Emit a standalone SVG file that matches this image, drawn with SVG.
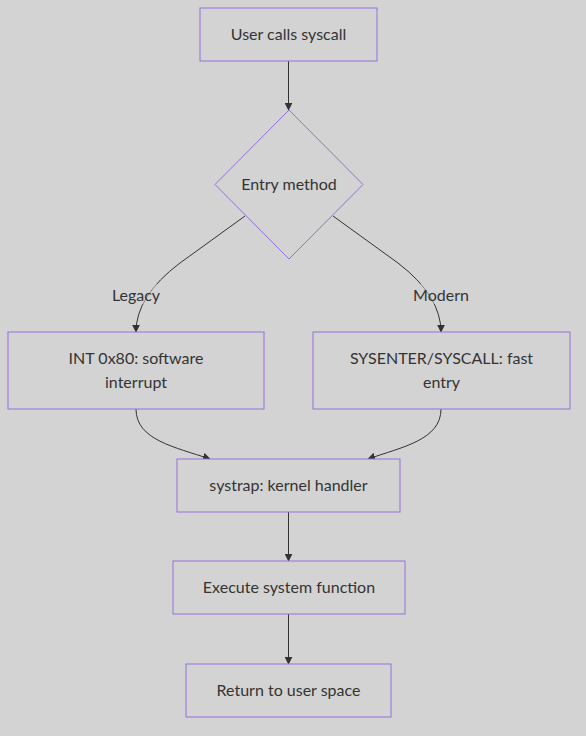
<svg xmlns="http://www.w3.org/2000/svg" width="586" height="736" viewBox="0 0 586 736">
<style>
.node rect,.node polygon{fill:#d3d3d3;stroke:#9370db;stroke-width:1}
.node text,.lbl text{font-family:Lato,"Open Sans","DejaVu Sans",sans-serif;font-size:16px;fill:#333;text-anchor:middle;dominant-baseline:central}
.edge{fill:none;stroke:#333;stroke-width:1}
.lbl rect{fill:#d3d3d3;opacity:0.5}
</style>
<defs>
<marker id="arr" viewBox="0 0 10 10" refX="9" refY="5" markerWidth="8" markerHeight="8" markerUnits="userSpaceOnUse" orient="auto">
<path d="M0,0 L10,5 L0,10 z" fill="#333"/>
</marker>
</defs>
<rect width="586" height="736" fill="#d3d3d3"/>
<g id="connectors">
<path class="edge" d="M288.5,61 L288.5,110" marker-end="url(#arr)"/>
<path class="edge" d="M245,216 L180,263 Q136,296 136,332" marker-end="url(#arr)"/>
<path class="edge" d="M333,216 L398,263 Q441,296 441,332" marker-end="url(#arr)"/>
<path class="edge" d="M136,409 C136,440 175,447 210,459" marker-end="url(#arr)"/>
<path class="edge" d="M441,409 C441,440 402,447 368,459" marker-end="url(#arr)"/>
<path class="edge" d="M288.5,512 L288.5,561" marker-end="url(#arr)"/>
<path class="edge" d="M288.5,614 L288.5,664" marker-end="url(#arr)"/>
</g>
<g id="labels">
<g class="lbl" id="lbl-legacy"><rect x="110" y="284" width="52" height="20"/><text x="136" y="294">Legacy</text></g>
<g class="lbl" id="lbl-modern"><rect x="413" y="284" width="56" height="20"/><text x="441" y="294">Modern</text></g>
</g>
<g class="node" id="n-user"><rect x="200" y="8" width="177" height="53"/><text x="288.5" y="33">User calls syscall</text></g>
<g class="node" id="n-entry"><polygon points="289,110 363,184.5 289,259 215,184.5"/><text x="289" y="183">Entry method</text></g>
<g class="node" id="n-int"><rect x="8" y="332" width="256" height="77"/><text x="136" y="357">INT 0x80: software</text><text x="136" y="381">interrupt</text></g>
<g class="node" id="n-sysenter"><rect x="313" y="332" width="257" height="77"/><text x="441.5" y="357">SYSENTER/SYSCALL: fast</text><text x="441.5" y="381">entry</text></g>
<g class="node" id="n-systrap"><rect x="177" y="459" width="223" height="53"/><text x="288.5" y="484">systrap: kernel handler</text></g>
<g class="node" id="n-exec"><rect x="173" y="561" width="232" height="53"/><text x="289" y="586">Execute system function</text></g>
<g class="node" id="n-return"><rect x="186" y="664" width="205" height="53"/><text x="288.5" y="689">Return to user space</text></g>
</svg>
